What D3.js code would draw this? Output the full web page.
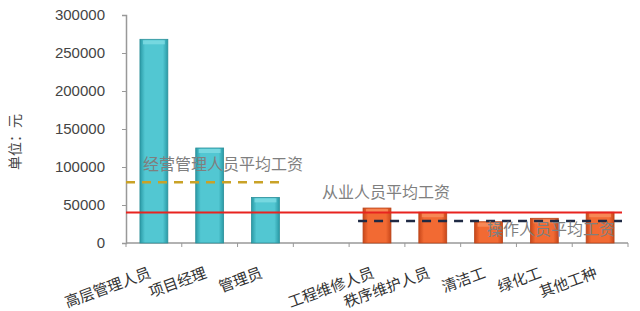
<!DOCTYPE html>
<html><head><meta charset="utf-8">
<script src="https://cdn.jsdelivr.net/npm/d3@7"></script>
<style>body{margin:0;background:#fff}svg{display:block}</style>
</head><body>
<svg id="c" width="640" height="311"></svg>
<script>
const categories = ["高层管理人员","项目经理","管理员","","工程维修人员","秩序维护人员","清洁工","绿化工","其他工种"];
const groups = ["mgmt","mgmt","mgmt","none","op","op","op","op","op"];
const values = [268000, 125000, 60000, null, 46000, 40500, 28000, 32500, 40500];
const yTicks = [0, 50000, 100000, 150000, 200000, 250000, 300000];
const avgLabels = ["经营管理人员平均工资","从业人员平均工资","操作人员平均工资"];
const avgValues = [80000, 40000, 29000];
const yTitle = "单位：元";

const svg = d3.select("#c");
const x = d3.scaleBand().domain(d3.range(categories.length)).range([126, 628]).paddingInner(0.5).paddingOuter(0.25);
const y = d3.scaleLinear().domain([0, 300000]).range([243, 15]);

const defs = svg.append("defs");
function grad(id, edge, mid){
  const g = defs.append("linearGradient").attr("id", id).attr("x1","0").attr("x2","1").attr("y1","0").attr("y2","0");
  g.append("stop").attr("offset","0").attr("stop-color",edge);
  g.append("stop").attr("offset","0.18").attr("stop-color",mid);
  g.append("stop").attr("offset","0.82").attr("stop-color",mid);
  g.append("stop").attr("offset","1").attr("stop-color",edge);
}
grad("gc", "#2a9aa6", "#52c7d2");
grad("go", "#c8471a", "#f26a33");

// axes
const ya = svg.append("g").attr("transform","translate(126,0)")
  .call(d3.axisLeft(y).tickValues(yTicks).tickFormat(d3.format("d")).tickSize(4).tickPadding(17));
ya.select(".domain").attr("stroke","#999").attr("stroke-width",1.5);
ya.selectAll(".tick line").attr("stroke","#999");
ya.selectAll("text").attr("font-family","Liberation Sans, Arial, sans-serif").attr("font-size",15).attr("fill","#444");

const xg = svg.append("g");
xg.append("line").attr("x1",x.range()[0]).attr("x2",x.range()[1]).attr("y1",y(0)).attr("y2",y(0)).attr("stroke","#999").attr("stroke-width",1.5);
xg.selectAll("line.t").data(d3.range(categories.length+1)).join("line").attr("class","t")
  .attr("x1",i=>x.range()[0]+i*x.step()).attr("x2",i=>x.range()[0]+i*x.step())
  .attr("y1",y(0)).attr("y2",y(0)+4).attr("stroke","#999");

// bars
const bd = values.map((v,i)=>({v,i,g:groups[i]})).filter(d=>d.v!=null);
const bars = svg.append("g").selectAll("g").data(bd).join("g");
bars.append("rect").attr("x",d=>x(d.i)).attr("width",x.bandwidth())
  .attr("y",d=>y(d.v)).attr("height",d=>y(0)-y(d.v))
  .attr("fill",d=>d.g==="mgmt"?"url(#gc)":"url(#go)")
  .attr("stroke",d=>d.g==="mgmt"?"#2b8f99":"#b8441a").attr("stroke-width",0.8);
bars.append("rect").attr("x",d=>x(d.i)+3).attr("width",x.bandwidth()-6)
  .attr("y",d=>y(d.v)+1).attr("height",4)
  .attr("fill",d=>d.g==="mgmt"?"#7fdce4":"#f7905f").attr("opacity",0.8);

// average lines
svg.append("line").attr("x1",x.range()[0]).attr("x2",x(2)+x.bandwidth()+5)
  .attr("y1",y(avgValues[0])).attr("y2",y(avgValues[0]))
  .attr("stroke","#c9a227").attr("stroke-width",2.5).attr("stroke-dasharray","9,7");
svg.append("line").attr("x1",x.range()[0]).attr("x2",x.range()[1]-6)
  .attr("y1",y(avgValues[1])).attr("y2",y(avgValues[1]))
  .attr("stroke","#e8231f").attr("stroke-width",2);
svg.append("line").attr("x1",x(4)-5).attr("x2",x.range()[1]-6)
  .attr("y1",y(avgValues[2])).attr("y2",y(avgValues[2]))
  .attr("stroke","#1f2a44").attr("stroke-width",2.5).attr("stroke-dasharray","9,7");

const lf = "Noto Sans CJK SC, sans-serif";
svg.append("text").attr("x",143).attr("y",y(avgValues[0])-12).text(avgLabels[0])
  .attr("font-family",lf).attr("font-size",16).attr("fill","#7f7f7f");
svg.append("text").attr("x",322).attr("y",y(avgValues[1])-15).text(avgLabels[1])
  .attr("font-family",lf).attr("font-size",16).attr("fill","#7f7f7f");
svg.append("text").attr("x",487).attr("y",y(avgValues[2])+14).text(avgLabels[2])
  .attr("font-family",lf).attr("font-size",16).attr("fill","#7f7f7f");

// category labels
svg.append("g").selectAll("text").data(categories.map((c,i)=>({c,i})).filter(d=>d.c))
  .join("text")
  .attr("transform",d=>`translate(${x(d.i)+x.bandwidth()/2-2},${y(0)+34}) rotate(-20)`)
  .attr("text-anchor","end").text(d=>d.c)
  .attr("font-family",lf).attr("font-size",15).attr("fill","#333");

// y title
svg.append("text").attr("transform","translate(20,142) rotate(-90)").attr("text-anchor","middle")
  .text(yTitle).attr("font-family",lf).attr("font-size",14).attr("fill","#444");
</script>
</body></html>
